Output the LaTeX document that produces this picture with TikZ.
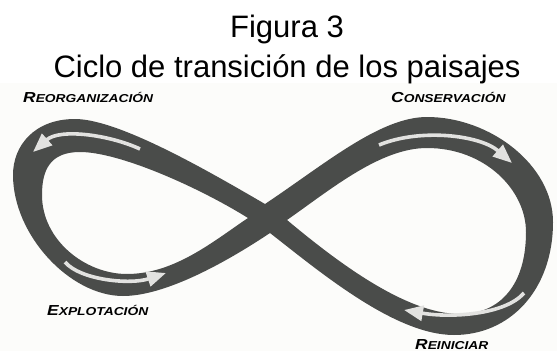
\documentclass[tikz,border=0pt]{standalone}
\usepackage{fontspec}
\setmainfont{Liberation Sans}
\newfontfamily\labfont[FakeStretch=1.2]{Liberation Sans}
\usetikzlibrary{arrows.meta}
\definecolor{band}{RGB}{74,76,74}
\definecolor{arr}{RGB}{226,226,224}
\definecolor{bg}{RGB}{252,252,250}
\newcommand\sclab[2]{{\labfont\bfseries\itshape\fontsize{14.5}{14}\selectfont #1\fontsize{11.5}{11}\selectfont #2}}
\tikzset{
  lab/.style={anchor=base west, inner sep=0pt, text=black},
  ttl/.style={anchor=base, inner sep=0pt, font=\fontsize{31}{31}\selectfont},
  flow/.style={draw=arr, line width=3.6pt, -{Triangle[length=19pt,width=15pt]}}
}
\begin{document}
\begin{tikzpicture}[x=1pt,y=-1pt]
\useasboundingbox (0,0) rectangle (557,351);
\fill[bg] (0,83) rectangle (557,351);
% band of the figure eight
\coordinate (n1) at (265,204);
\coordinate (n2) at (270,233);
\coordinate (t1) at (248,218);
\coordinate (t2) at (287,220);
\fill[band, even odd rule]
  (n1) .. controls (325,164) and (380,117) .. (427,117)
       .. controls (490,117) and (553,165) .. (553,222)
       .. controls (553,290) and (510,335) .. (454,335)
       .. controls (395,335) and (320,272) .. (n2)
       .. controls (225,263) and (165,296) .. (123,296)
       .. controls (70,296) and (13,235) .. (13,175)
       .. controls (13,145) and (35,119) .. (75,119)
       .. controls (120,119) and (215,175) .. (n1) -- cycle
  (t2) .. controls (330,190) and (380,148) .. (427,148)
       .. controls (485,148) and (526,190) .. (526,232)
       .. controls (526,285) and (500,314) .. (460,314)
       .. controls (405,314) and (335,260) .. (t2) -- cycle
  (t1) .. controls (200,188) and (120,152) .. (80,152)
       .. controls (50,152) and (42,170) .. (42,195)
       .. controls (42,240) and (85,274) .. (127,274)
       .. controls (175,274) and (215,240) .. (t1) -- cycle;
% flow arrows
\coordinate (a1s) at (140,149); \coordinate (a1e) at (33,152);
\coordinate (a2s) at (65,262);  \coordinate (a2e) at (166,273);
\coordinate (a3s) at (379,145); \coordinate (a3e) at (512,163);
\coordinate (a4s) at (524,293); \coordinate (a4e) at (404,310);
\draw[flow] (a1s) .. controls (110,135) and (60,128) .. (a1e);
\draw[flow] (a2s) .. controls (80,280) and (130,285) .. (a2e);
\draw[flow] (a3s) .. controls (420,128) and (480,135) .. (a3e);
\draw[flow] (a4s) .. controls (505,315) and (450,318) .. (a4e);
% titles
\node[ttl] (ttl1) at (287,37) {Figura 3};
\node[ttl] (ttl2) at (287,77) {Ciclo de transición de los paisajes};
% labels
\node[lab] (reorg) at (23,102) {\sclab{R}{EORGANIZACIÓN}};
\node[lab] (cons) at (391,102) {\sclab{C}{ONSERVACIÓN}};
\node[lab] (expl) at (47,315.5) {\sclab{E}{XPLOTACIÓN}};
\node[lab] (rein) at (415,349) {\sclab{R}{EINICIAR}};
\end{tikzpicture}
\end{document}
